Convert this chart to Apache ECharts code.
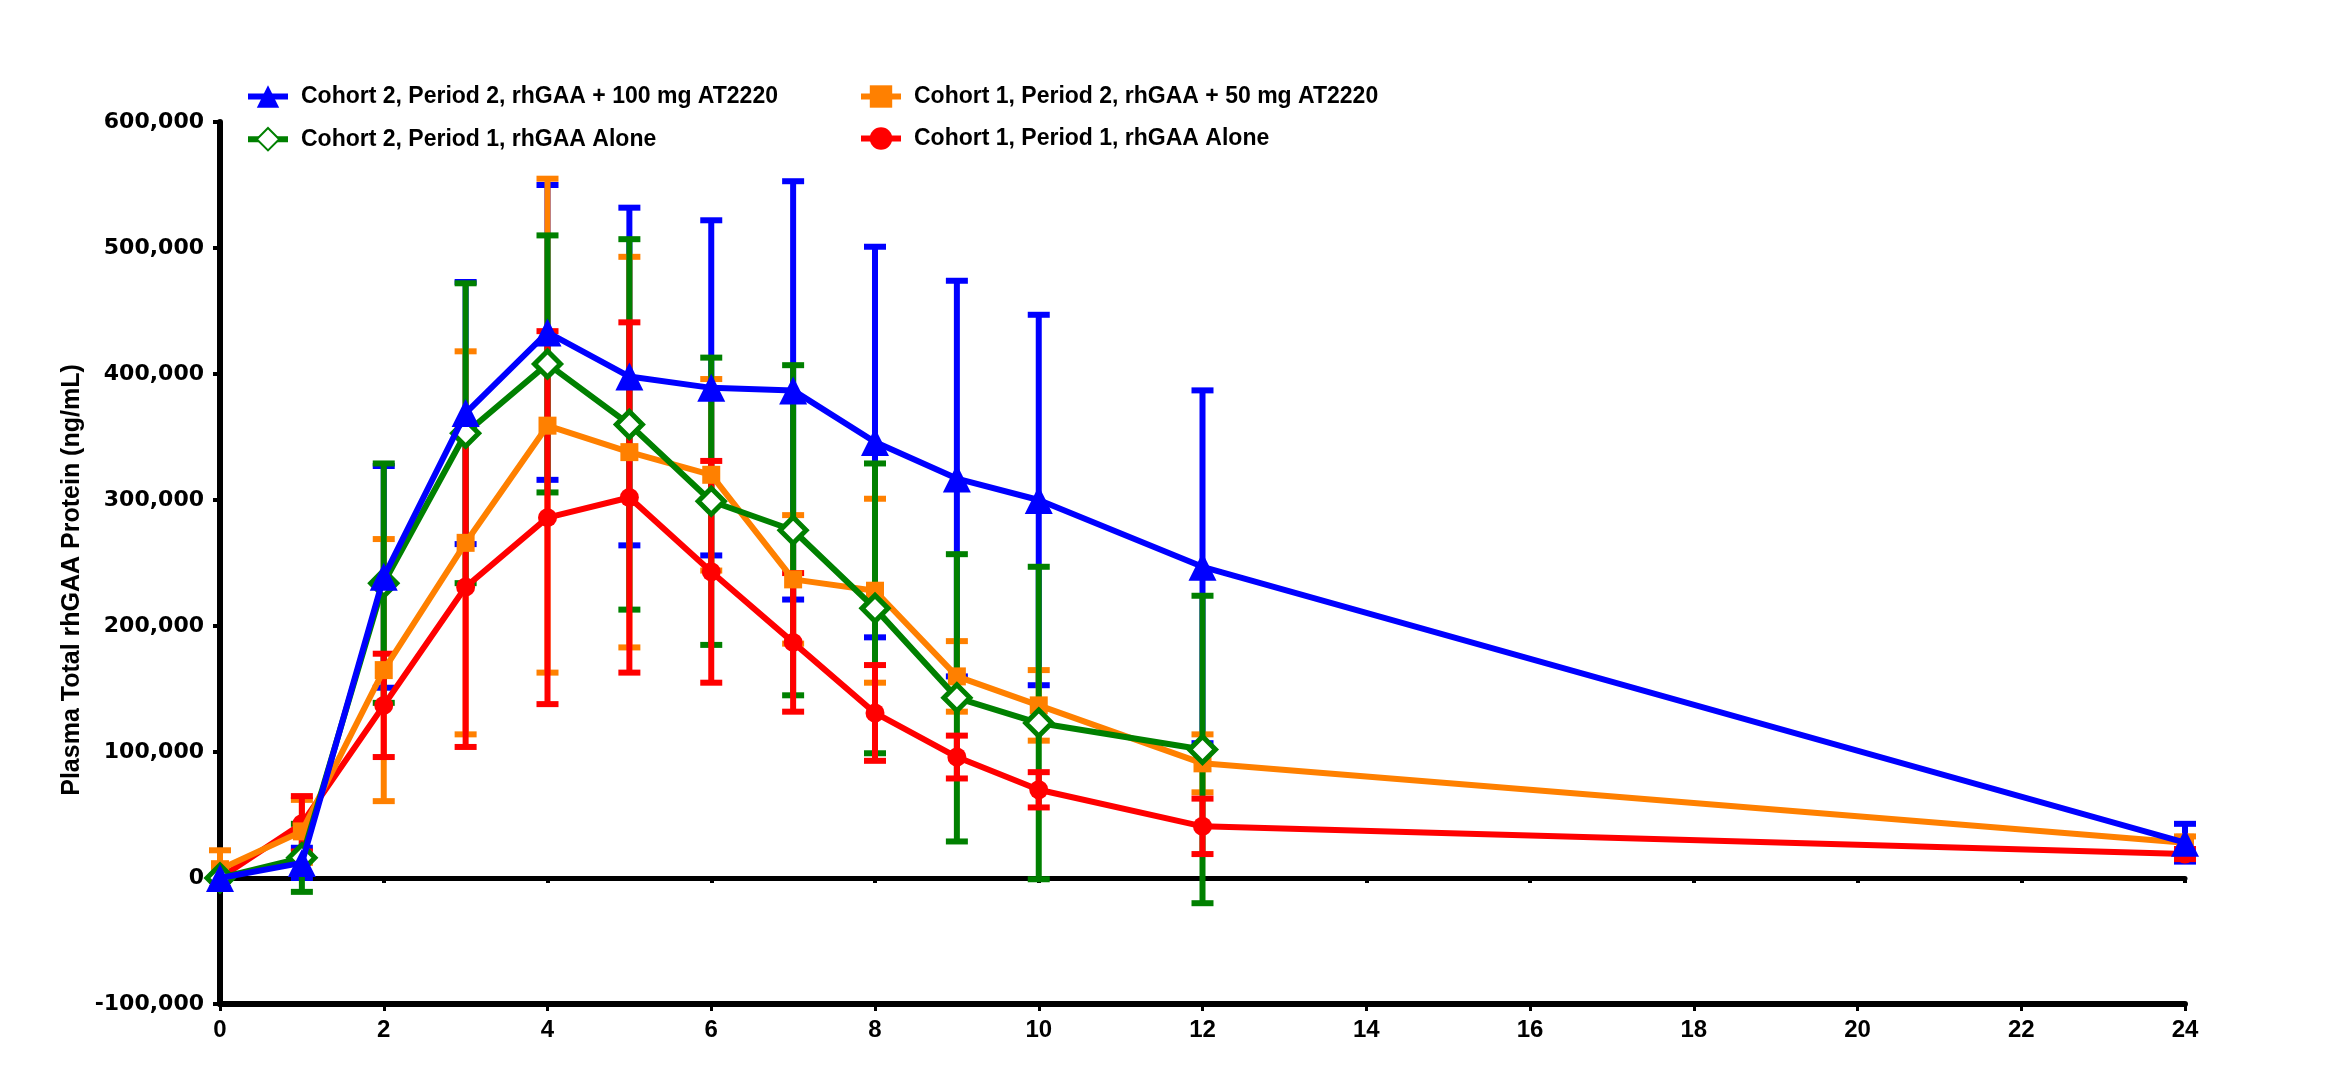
<!DOCTYPE html>
<html>
<head>
<meta charset="utf-8">
<script src="https://cdn.jsdelivr.net/npm/echarts@6/dist/echarts.min.js"></script>
<style>
  html, body { margin: 0; padding: 0; background: #ffffff; }
  #chart { width: 2334px; height: 1065px; }
</style>
</head>
<body>
<div id="chart"></div>
<script>
// ---- Data ----
const hours      = [0, 1, 2, 3, 4, 5, 6, 7, 8, 9, 10, 12, 24];
const greenHours = [0, 1, 2, 3, 4, 5, 6, 7, 8, 9, 10, 12];

const seriesNames = [
  'Cohort 2, Period 2, rhGAA + 100 mg AT2220',
  'Cohort 1, Period 2, rhGAA + 50 mg AT2220',
  'Cohort 2, Period 1, rhGAA Alone',
  'Cohort 1, Period 1, rhGAA Alone'
];
const yAxisTitle = 'Plasma Total rhGAA Protein (ng/mL)';

// Cohort 2, Period 2 (blue)
const c2p2Mean = [0, 12000, 239000, 369000, 433000, 398000, 389000, 387000, 346000, 317000, 300000, 247000, 28000];
const c2p2SD   = [2000, 12000, 88000, 104000, 117000, 134000, 133000, 166000, 155000, 157000, 147000, 140000, 15000];
// Cohort 1, Period 2 (orange)
const c1p2Mean = [7000, 37000, 165000, 266000, 359000, 338000, 320000, 237000, 228000, 160000, 137000, 91000, 28000];
const c1p2SD   = [15000, 25000, 104000, 152000, 196000, 155000, 76000, 51000, 73000, 28000, 28000, 23000, 5000];
// Cohort 2, Period 1 (green)
const c2p1Mean = [0, 16000, 234000, 353000, 408000, 360000, 299000, 276000, 214000, 143000, 123000, 102000];
const c2p1SD   = [2000, 27000, 95000, 119000, 102000, 147000, 114000, 131000, 115000, 114000, 124000, 122000];
// Cohort 1, Period 1 (red)
const c1p1Mean = [0, 43000, 137000, 231000, 286000, 302000, 243000, 187000, 131000, 96000, 70000, 41000, 19000];
const c1p1SD   = [1000, 22000, 41000, 127000, 148000, 139000, 88000, 55000, 38000, 17000, 14000, 22000, 4000];

const yTicks = { min: -100000, max: 600000, step: 100000 };
const xTicks = { min: 0, max: 24, step: 2 };

// ---- Styles ----
const COLORS = { blue: '#0000FF', orange: '#FF8000', green: '#008000', red: '#FF0000' };

function pairs(xs, ys) { return xs.map((x, i) => [x, ys[i]]); }
function errData(xs, m, s) { return xs.map((x, i) => [x, m[i] - s[i], m[i] + s[i]]); }

function errorSeries(name, xs, m, s, color, z) {
  return {
    type: 'custom',
    name: name,
    xAxisIndex: 0,
    yAxisIndex: 0,
    z: z,
    silent: true,
    data: errData(xs, m, s),
    encode: { x: 0, y: [1, 2] },
    renderItem: function (params, api) {
      const x = api.value(0);
      const lo = api.coord([x, api.value(1)]);
      const hi = api.coord([x, api.value(2)]);
      const half = 11;
      const style = { stroke: color, lineWidth: 6, fill: null };
      return {
        type: 'group',
        children: [
          { type: 'line', shape: { x1: lo[0], y1: lo[1], x2: hi[0], y2: hi[1] }, style: style },
          { type: 'line', shape: { x1: lo[0] - half, y1: lo[1], x2: lo[0] + half, y2: lo[1] }, style: style },
          { type: 'line', shape: { x1: hi[0] - half, y1: hi[1], x2: hi[0] + half, y2: hi[1] }, style: style }
        ]
      };
    }
  };
}

const legendText = { fontFamily: 'Liberation Sans', fontWeight: 'bold', fontSize: 23, color: '#000', padding: [0, 0, 0, 8] };
const legendCommon = {
  orient: 'vertical', top: 85, itemGap: 19, itemWidth: 40, itemHeight: 28, padding: 0,
  lineStyle: { width: 6 }, textStyle: legendText
};

const option = {
  backgroundColor: '#ffffff',
  animation: false,
  grid: { left: 220, right: 149, top: 122, bottom: 61, containLabel: false },
  legend: [
    Object.assign({ left: 245, data: [seriesNames[0], seriesNames[2]] }, legendCommon),
    Object.assign({ left: 858, data: [seriesNames[1], seriesNames[3]] }, legendCommon)
  ],
  graphic: [
    {
      type: 'text', x: 72, y: 580, rotation: Math.PI / 2,
      style: {
        text: yAxisTitle, fill: '#000',
        font: 'bold 25px "Liberation Sans"',
        textAlign: 'center', textVerticalAlign: 'middle'
      }
    }
  ],
  xAxis: [
    {
      type: 'value', position: 'bottom',
      min: xTicks.min, max: xTicks.max, interval: xTicks.step,
      axisLine: { show: true, onZero: true, lineStyle: { color: '#000', width: 5 } },
      axisTick: { show: true, inside: false, length: 5, lineStyle: { color: '#000', width: 4 } },
      axisLabel: { show: false },
      splitLine: { show: false }
    },
    {
      type: 'value', position: 'bottom',
      min: xTicks.min, max: xTicks.max, interval: xTicks.step,
      axisLine: { show: true, onZero: false, lineStyle: { color: '#000', width: 6 } },
      axisTick: { show: true, inside: false, length: 7, lineStyle: { color: '#000', width: 3 } },
      axisLabel: { show: true, margin: 14, fontFamily: 'Liberation Sans', fontWeight: 'bold', fontSize: 24, color: '#000' },
      splitLine: { show: false }
    }
  ],
  yAxis: {
    type: 'value',
    min: yTicks.min, max: yTicks.max, interval: yTicks.step,
    axisLine: { show: true, onZero: false, lineStyle: { color: '#000', width: 6 } },
    axisTick: { show: true, inside: false, length: 7, lineStyle: { color: '#000', width: 4 } },
    axisLabel: {
      margin: 16, fontFamily: 'DejaVu Sans', fontWeight: 'bold', fontSize: 22, color: '#000',
      formatter: v => v.toLocaleString('en-US')
    },
    splitLine: { show: false }
  },
  series: [
    errorSeries('err-blue', hours, c2p2Mean, c2p2SD, COLORS.blue, 2),
    errorSeries('err-orange', hours, c1p2Mean, c1p2SD, COLORS.orange, 3),
    errorSeries('err-green', greenHours, c2p1Mean, c2p1SD, COLORS.green, 4),
    errorSeries('err-red', hours, c1p1Mean, c1p1SD, COLORS.red, 5),
    {
      type: 'line', name: seriesNames[3], z: 10, data: pairs(hours, c1p1Mean),
      symbol: 'circle', symbolSize: 19,
      lineStyle: { color: COLORS.red, width: 6 }, itemStyle: { color: COLORS.red }
    },
    {
      type: 'line', name: seriesNames[1], z: 11, data: pairs(hours, c1p2Mean),
      symbol: 'rect', symbolSize: 18,
      lineStyle: { color: COLORS.orange, width: 6 }, itemStyle: { color: COLORS.orange }
    },
    {
      type: 'line', name: seriesNames[2], z: 12, data: pairs(greenHours, c2p1Mean),
      symbol: 'diamond', symbolSize: 26,
      lineStyle: { color: COLORS.green, width: 6 },
      itemStyle: { color: '#ffffff', borderColor: COLORS.green, borderWidth: 5 }
    },
    {
      type: 'line', name: seriesNames[0], z: 13, data: pairs(hours, c2p2Mean),
      symbol: 'triangle', symbolSize: 28,
      lineStyle: { color: COLORS.blue, width: 6 }, itemStyle: { color: COLORS.blue }
    }
  ]
};

const chart = echarts.init(document.getElementById('chart'), null, { renderer: 'canvas' });
chart.setOption(option);
</script>
</body>
</html>
